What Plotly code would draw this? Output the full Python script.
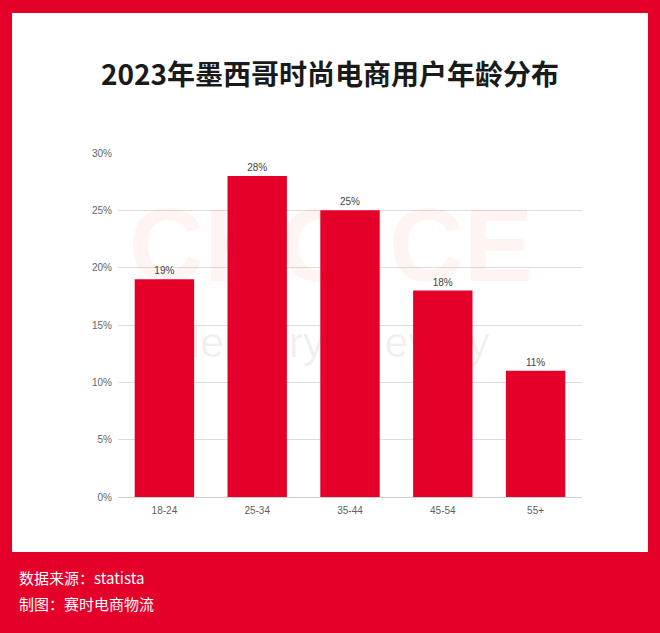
import plotly.graph_objects as go

# ---- data ----
categories = ["18-24", "25-34", "35-44", "45-54", "55+"]
shares = [19, 28, 25, 18, 11]
share_labels = ["19%", "28%", "25%", "18%", "11%"]
y_ticks = [0, 5, 10, 15, 20, 25, 30]
y_tick_labels = ["0%", "5%", "10%", "15%", "20%", "25%", "30%"]
title_text = "2023年墨西哥时尚电商用户年龄分布"
source_text = "数据来源：statista"
maker_text = "制图：赛时电商物流"
watermark_big = "CHOICE"
watermark_small = "delivery to every"

RED = "#E5002A"
W, H = 660, 633
ML, MR, MT, MB = 118, 78, 153, 136
PW, PH = W - ML - MR, H - MT - MB


def px(x):
    return (x - ML) / PW


def py(y):
    return (H - MB - y) / PH


fig = go.Figure()

# watermark on the base (hidden) subplot, drawn underneath the bars
fig.add_trace(go.Scatter(
    x=[px(331)], y=[py(255)], mode="text", text=[watermark_big],
    textposition="middle center", cliponaxis=False, hoverinfo="skip",
    textfont=dict(family="Liberation Sans", size=104, weight="bold",
                  color="rgba(235,100,60,0.07)"),
    xaxis="x", yaxis="y",
))
fig.add_trace(go.Scatter(
    x=[px(333)], y=[py(346)], mode="text", text=[watermark_small],
    textposition="middle center", cliponaxis=False, hoverinfo="skip",
    textfont=dict(family="Liberation Sans", size=43, color="rgba(0,0,0,0.06)"),
    xaxis="x", yaxis="y",
))

# bars on the overlaying subplot
fig.add_trace(go.Bar(
    x=categories, y=shares, text=share_labels, textposition="outside",
    textfont=dict(family="Liberation Sans", size=10, color="#444444"),
    marker=dict(color=RED, line=dict(width=0)),
    cliponaxis=False, hoverinfo="skip",
    xaxis="x2", yaxis="y2",
))

shapes = [
    dict(type="rect", xref="paper", yref="paper", layer="below",
         x0=px(12), x1=px(648), y0=py(552), y1=py(13),
         fillcolor="white", line=dict(width=0)),
]

annotations = [
    dict(text=source_text, xref="paper", yref="paper", x=px(17), y=py(577),
         xanchor="left", yanchor="middle", showarrow=False,
         font=dict(family="Noto Sans CJK SC", size=15, color="white")),
    dict(text=maker_text, xref="paper", yref="paper", x=px(17), y=py(603),
         xanchor="left", yanchor="middle", showarrow=False,
         font=dict(family="Noto Sans CJK SC", size=15, color="white")),
]

fig.update_layout(
    width=W, height=H,
    margin=dict(l=ML, r=MR, t=MT, b=MB, pad=0),
    paper_bgcolor=RED, plot_bgcolor="rgba(0,0,0,0)",
    showlegend=False, bargap=0.36,
    title=dict(text="<b>" + title_text + "</b>", x=0.5, xref="container", xanchor="center",
               y=1 - 75 / H, yref="container", yanchor="middle",
               font=dict(family="Noto Sans CJK SC", size=28, color="#1a1a1a")),
    shapes=shapes, annotations=annotations,
    xaxis=dict(range=[0, 1], visible=False, fixedrange=True),
    yaxis=dict(range=[0, 1], visible=False, fixedrange=True),
    xaxis2=dict(overlaying="x", anchor="y2", showgrid=False, showline=False,
                ticks="", zeroline=False, ticklabelstandoff=6,
                tickfont=dict(family="Liberation Sans", size=10, color="#5f5f5f")),
    yaxis2=dict(overlaying="y", anchor="x2", side="left",
                range=[0, 30], tickvals=y_ticks, ticktext=y_tick_labels,
                showgrid=True, gridcolor="#dddddd", gridwidth=1,
                zeroline=True, zerolinecolor="#cfcfcf", zerolinewidth=1,
                showline=False, ticks="", ticklabelstandoff=5,
                tickfont=dict(family="Liberation Sans", size=10, color="#666666")),
)

fig.write_html("out.html")
